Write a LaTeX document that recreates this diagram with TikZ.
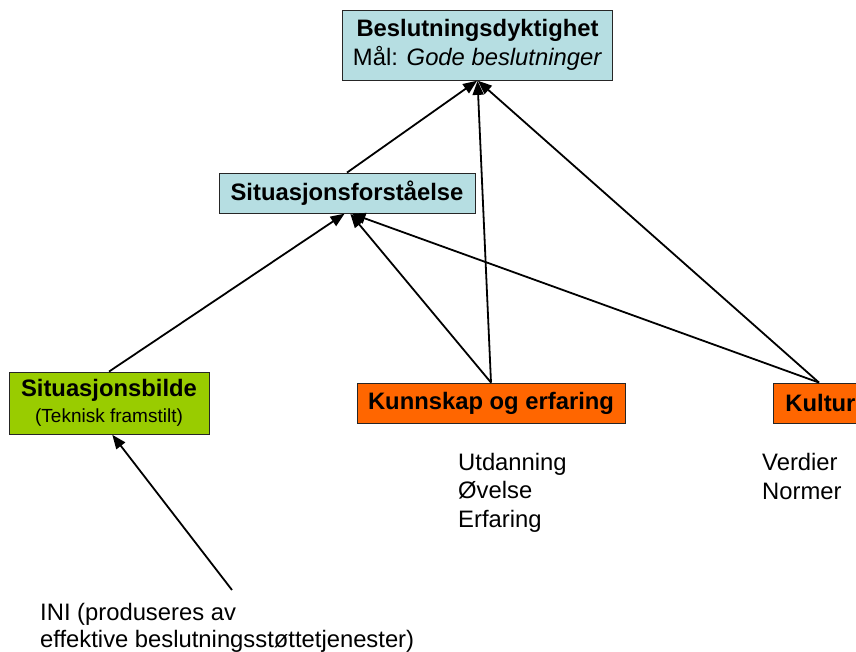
\documentclass[tikz,border=0pt]{standalone}
\usepackage{fontspec}
\setmainfont{Liberation Sans}
\usetikzlibrary{arrows.meta}
\definecolor{boxcyan}{RGB}{182,222,226}
\definecolor{boxgreen}{RGB}{153,204,0}
\definecolor{boxorange}{RGB}{255,102,0}
\tikzset{
  box/.style={draw=black!85, line width=0.8pt, inner sep=0pt, align=center,
    font=\fontsize{23.8}{28.5}\selectfont},
  arr/.style={line width=1.8pt, -{Triangle[length=14pt,width=11pt]}, shorten >=0.5pt},
  plaintext/.style={inner sep=0pt, align=left, anchor=base west,
    font=\fontsize{23.8}{28.5}\selectfont},
}
\begin{document}
\begin{tikzpicture}[x=1pt,y=1pt]
\useasboundingbox (0,0) rectangle (856,651);
\clip (0,0) rectangle (856,651);

% boxes
\node[box, fill=boxcyan, minimum width=270pt, minimum height=70pt] (top) at (477.5,606)
  {\textbf{Beslutningsdyktighet}\\Mål: \textit{Gode beslutninger}};
\node[box, fill=boxcyan, minimum width=256pt, minimum height=40pt] (sf) at (347,458)
  {\textbf{Situasjonsforståelse}};
\node[box, fill=boxgreen, minimum width=200pt, minimum height=62pt] (sb) at (109,248)
  {\textbf{Situasjonsbilde}\\[-3pt]{\fontsize{19}{22}\selectfont(Teknisk framstilt)}};
\node[box, fill=boxorange, minimum width=268pt, minimum height=40pt] (kunn) at (491,248)
  {\textbf{Kunnskap og erfaring}};
\node[box, fill=boxorange, minimum height=40pt, inner xsep=12pt, anchor=west] (kultur) at (773,248)
  {\textbf{Kultur}};

% free text (anchored at the baseline of the last line)
\node[plaintext] (kunnlist) at (458,124) {Utdanning\\Øvelse\\Erfaring};
\node[plaintext] (kulturlist) at (762,152) {Verdier\\Normer};
\node[plaintext, font=\fontsize{23.8}{27}\selectfont] (ini) at (40,4)
  {INI (produseres av\\effektive beslutningsstøttetjenester)};

% connector end points
\coordinate (kt) at ([xshift=46pt]kultur.north west);
\coordinate (inisrc) at (232,61);

% connectors
\draw[arr] (sf.north) -- (top.south);
\draw[arr] (kunn.north) -- (top.south);
\draw[arr] (kt) -- (top.south);
\draw[arr] (sb.north) -- ([xshift=-2pt]sf.south);
\draw[arr] (kunn.north) -- ([xshift=3pt]sf.south);
\draw[arr] (kt) -- ([xshift=4pt]sf.south);
\draw[arr] (inisrc) -- ([xshift=3pt]sb.south);
\end{tikzpicture}
\end{document}
